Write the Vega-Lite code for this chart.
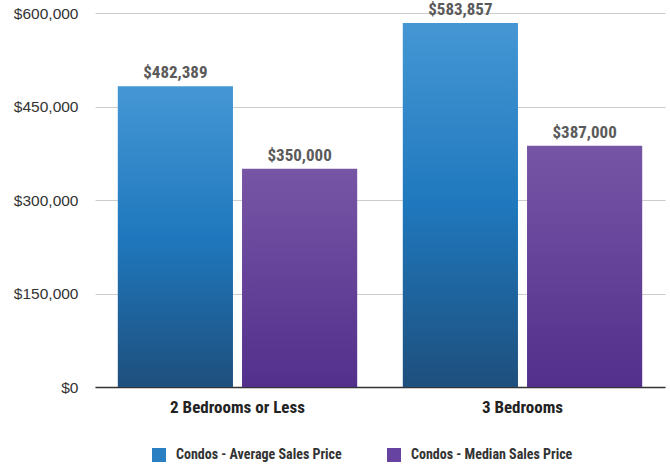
{
  "$schema": "https://vega.github.io/schema/vega-lite/v6.json",
  "width": 570,
  "height": 374,
  "autosize": {"type": "none"},
  "padding": {"left": 95, "top": 13, "right": 5, "bottom": 79},
  "background": "white",
  "config": {"view": {"stroke": null}, "font": "Liberation Sans"},
  "data": {
    "values": [
      {"cat": "2 Bedrooms or Less", "series": "Condos - Average Sales Price", "value": 482389},
      {"cat": "2 Bedrooms or Less", "series": "Condos - Median Sales Price", "value": 350000},
      {"cat": "3 Bedrooms", "series": "Condos - Average Sales Price", "value": 583857},
      {"cat": "3 Bedrooms", "series": "Condos - Median Sales Price", "value": 387000}
    ]
  },
  "encoding": {
    "x": {
      "field": "cat", "type": "nominal", "sort": null,
      "scale": {"paddingInner": 0.16, "paddingOuter": 0.08},
      "axis": {
        "title": null, "labelAngle": 0, "ticks": false, "grid": false,
        "domainColor": "#333333", "domainWidth": 1.5,
        "labelFont": "Roboto Condensed, DejaVu Sans Condensed, Roboto",
        "labelFontWeight": "bold", "labelFontSize": 17, "labelColor": "#222222",
        "labelPadding": 12
      }
    },
    "xOffset": {"field": "series", "type": "nominal", "sort": null, "scale": {"paddingInner": 0.073}},
    "y": {
      "field": "value", "type": "quantitative",
      "scale": {"domain": [0, 600000], "nice": false},
      "axis": {
        "title": null, "domain": false, "ticks": false,
        "values": [0, 150000, 300000, 450000, 600000],
        "format": "$,.0f", "labelFontSize": 15.5, "labelColor": "#333333",
        "labelPadding": 17, "gridColor": "#cccccc", "gridWidth": 1
      }
    }
  },
  "layer": [
    {
      "mark": {"type": "bar"},
      "encoding": {
        "fill": {
          "condition": {
            "test": "datum.series === 'Condos - Average Sales Price'",
            "value": {"gradient": "linear", "x1": 0, "y1": 0, "x2": 0, "y2": 1,
              "stops": [{"offset": 0, "color": "#4597d4"}, {"offset": 0.5, "color": "#1f78bd"}, {"offset": 1, "color": "#1e4f7d"}]}
          },
          "value": {"gradient": "linear", "x1": 0, "y1": 0, "x2": 0, "y2": 1,
            "stops": [{"offset": 0, "color": "#7755a5"}, {"offset": 1, "color": "#52308c"}]}
        }
      }
    },
    {
      "mark": {"type": "square", "opacity": 0},
      "encoding": {
        "color": {
          "field": "series", "type": "nominal", "sort": null,
          "scale": {"range": ["#2a7fc2", "#6643a0"]},
          "legend": {
            "title": null, "orient": "none", "direction": "horizontal",
            "legendX": 57, "legendY": 435,
            "symbolType": "square", "symbolSize": 196, "symbolStrokeWidth": 0,
            "symbolOpacity": 1,
            "labelFont": "Roboto Condensed, DejaVu Sans Condensed, Roboto",
            "labelFontWeight": "bold", "labelFontSize": 14, "labelColor": "#333333",
            "labelOffset": 10, "columnPadding": 45, "labelLimit": 300
          }
        }
      }
    },
    {
      "mark": {
        "type": "text", "baseline": "bottom", "dy": -4,
        "font": "Roboto Condensed, DejaVu Sans Condensed, Roboto",
        "fontWeight": "bold", "fontSize": 17, "color": "#5a5a5a"
      },
      "encoding": {"text": {"field": "value", "type": "quantitative", "format": "$,.0f"}}
    }
  ]
}
